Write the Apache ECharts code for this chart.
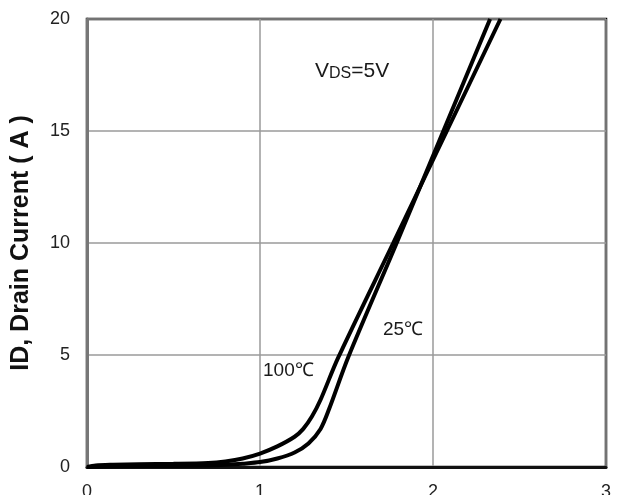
<!DOCTYPE html>
<html>
<head>
<meta charset="utf-8">
<script src="https://cdn.jsdelivr.net/npm/echarts@6/dist/echarts.min.js"></script>
<style>html,body{margin:0;padding:0;background:#fff;overflow:hidden}#c{width:626px;height:495px}</style>
</head>
<body>
<div id="c"></div>
<script>
const xTicks = [0, 1, 2, 3];
const yTicks = [0, 5, 10, 15, 20];
const curve100C = [[0,0],[0.05,0.07],[0.15,0.1],[0.3,0.12],[0.5,0.14],[0.7,0.18],[0.8,0.25],[0.9,0.38],[1.0,0.6],[1.1,0.92],[1.2,1.35],[1.25,1.7],[1.3,2.25],[1.35,3.0],[1.45,4.85],[1.77,10],[2.08,15],[2.39,20]];
const curve25C = [[0,0],[0.2,0.03],[0.5,0.05],[0.7,0.07],[0.8,0.1],[0.9,0.15],[1.0,0.22],[1.1,0.38],[1.2,0.65],[1.28,1.05],[1.35,1.7],[1.4,2.6],[1.51,4.9],[1.79,10],[2.06,15],[2.33,20]];
const labels = {vds: 'V', vdsSub: 'DS', vdsVal: '=5V', t25: '25℃', t100: '100℃', yName: 'ID, Drain Current ( A )'};

const chart = echarts.init(document.getElementById('c'), null, {renderer: 'canvas'});
const font = '"Liberation Sans", Arial, sans-serif';
chart.setOption({
  animation: false,
  grid: {left: 87, right: 20, top: 19, bottom: 28, containLabel: false, outerBoundsMode: 'none',
    show: true, borderColor: '#000', borderWidth: 2.5, backgroundColor: '#fff'},
  xAxis: {
    type: 'value', min: xTicks[0], max: xTicks[xTicks.length-1], interval: 1,
    axisLine: {show: true, lineStyle: {color: '#111', width: 3}},
    axisTick: {show: false},
    axisLabel: {color: '#222', fontSize: 18, fontFamily: font, margin: 16},
    splitLine: {show: true, lineStyle: {color: '#9a9a9a', width: 1.5}}
  },
  yAxis: {
    type: 'value', min: yTicks[0], max: yTicks[yTicks.length-1], interval: 5,
    name: labels.yName, nameLocation: 'middle', nameGap: 53,
    nameTextStyle: {color: '#111', fontSize: 25, fontWeight: 'bold', fontFamily: font},
    axisLine: {show: true, lineStyle: {color: '#777', width: 3}},
    axisTick: {show: false},
    axisLabel: {color: '#222', fontSize: 18, fontFamily: font, margin: 17},
    splitLine: {show: true, lineStyle: {color: '#9a9a9a', width: 1.5}}
  },
  series: [
    {type: 'line', data: curve100C, smooth: 0.3, showSymbol: false, lineStyle: {color: '#000', width: 4}},
    {type: 'line', data: curve25C, smooth: 0.3, showSymbol: false, lineStyle: {color: '#000', width: 4}}
  ],
  graphic: [
    {type: 'text', left: 315, top: 61, z: 100, style: {
      text: '{a|' + labels.vds + '}{b|' + labels.vdsSub + '}{a|' + labels.vdsVal + '}',
      rich: {
        a: {fontSize: 21, fontFamily: font, fill: '#1a1a1a', verticalAlign: 'bottom', lineHeight: 23},
        b: {fontSize: 16, fontFamily: font, fill: '#1a1a1a', verticalAlign: 'bottom', lineHeight: 20}
      }
    }},
    {type: 'text', left: 383, top: 320, z: 100, style: {text: labels.t25, fontSize: 19, fontFamily: font, fill: '#1a1a1a'}},
    {type: 'text', left: 263, top: 361, z: 100, style: {text: labels.t100, fontSize: 19, fontFamily: font, fill: '#1a1a1a'}}
  ]
});
</script>
</body>
</html>
